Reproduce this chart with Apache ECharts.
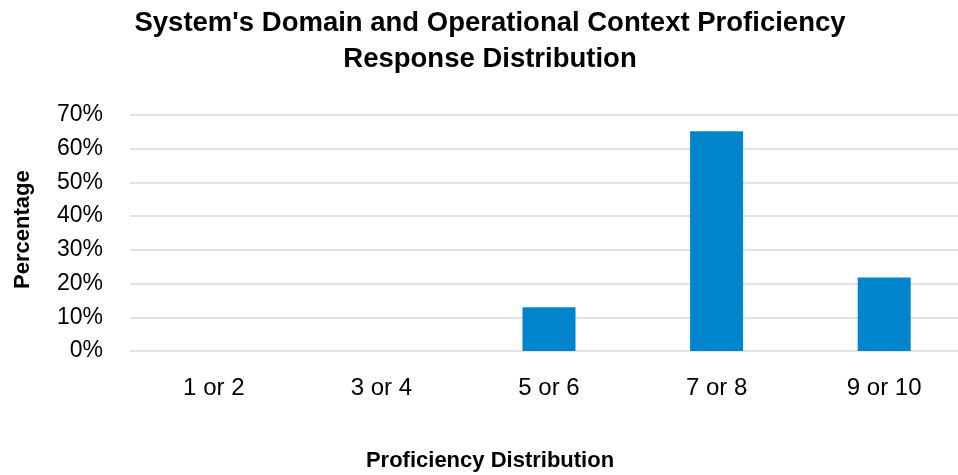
<!DOCTYPE html>
<html>
<head>
<meta charset="utf-8">
<script src="https://cdn.jsdelivr.net/npm/echarts@6/dist/echarts.min.js"></script>
<style>
html, body { margin: 0; padding: 0; background: #fff; }
#chart { width: 958px; height: 475px; }
</style>
</head>
<body>
<div id="chart"></div>
<script>
const categories = ["1 or 2", "3 or 4", "5 or 6", "7 or 8", "9 or 10"]
const percentages = [0, 0, 13.0, 65.2, 21.8]
const yTicks = [0, 10, 20, 30, 40, 50, 60, 70]

const font = "Liberation Sans"
const chart = echarts.init(document.getElementById("chart"))
chart.setOption({
    animation: false,
    title: {
        text: "System's Domain and Operational Context Proficiency\nResponse Distribution",
        left: 490,
        textAlign: "center",
        top: 5,
        padding: 0,
        textStyle: {
            fontFamily: font,
            fontSize: 27.5,
            fontWeight: "bold",
            color: "#000",
            lineHeight: 36
        }
    },
    graphic: [
        {
            type: "text",
            x: 490,
            y: 450,
            style: {
                text: "Proficiency Distribution",
                font: "bold 22px " + font,
                fill: "#000",
                align: "center",
                verticalAlign: "top"
            }
        },
        {
            type: "text",
            x: 12,
            y: 289,
            rotation: Math.PI / 2,
            style: {
                text: "Percentage",
                font: "bold 22px " + font,
                fill: "#000"
            }
        }
    ],
    grid: {
        left: 130,
        top: 115,
        width: 838,
        height: 236,
        outerBoundsMode: "none"
    },
    xAxis: {
        type: "category",
        data: categories,
        axisLine: { show: false },
        axisTick: { show: false },
        axisLabel: {
            margin: 25,
            fontFamily: font,
            fontSize: 24,
            color: "#000"
        }
    },
    yAxis: {
        type: "value",
        min: yTicks[0],
        max: yTicks[yTicks.length - 1],
        interval: 10,
        axisLine: { show: false },
        axisTick: { show: false },
        splitLine: { lineStyle: { color: "#d9d9d9", width: 1.5 } },
        axisLabel: {
            margin: 27,
            padding: [4, 0, 0, 0],
            fontFamily: font,
            fontSize: 23,
            color: "#000",
            formatter: "{value}%"
        }
    },
    series: [
        {
            type: "bar",
            data: percentages,
            barWidth: 53,
            itemStyle: {
                color: "#0084cc"
            }
        }
    ]
})
</script>
</body>
</html>
